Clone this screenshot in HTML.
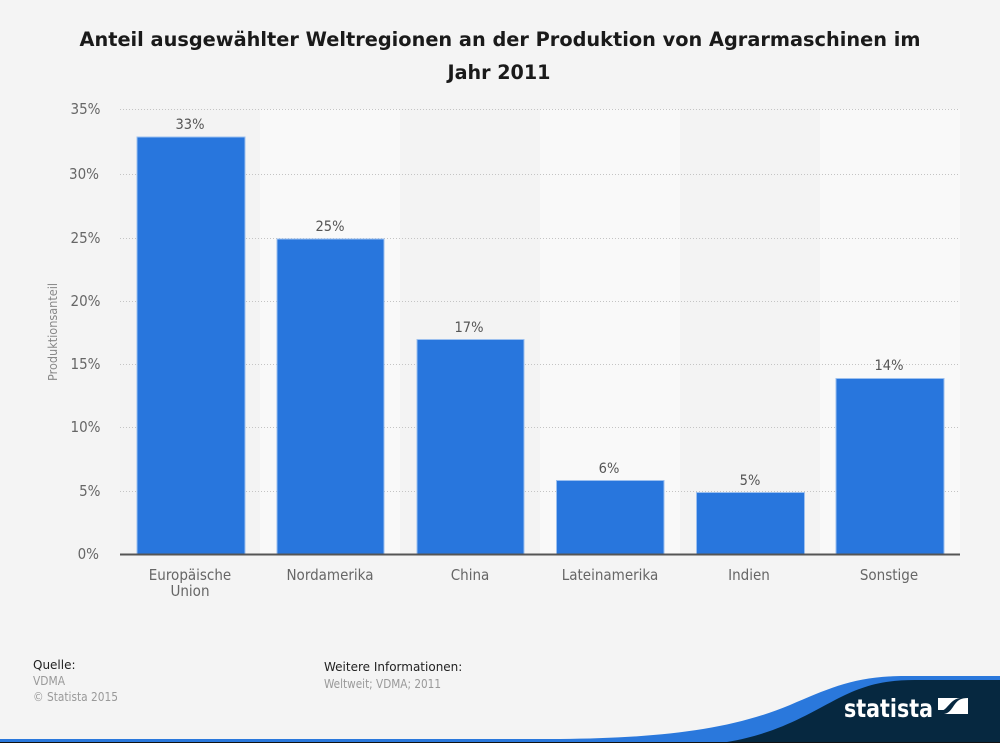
<!DOCTYPE html>
<html>
<head>
<meta charset="utf-8">
<style>
  html,body{margin:0;padding:0;background:#f4f4f4;}
  svg{display:block;}
  .tick{font-family:"DejaVu Sans Condensed","DejaVu Sans","Liberation Sans",sans-serif;font-size:15px;fill:#666;}
  .val{font-family:"DejaVu Sans Condensed","DejaVu Sans","Liberation Sans",sans-serif;font-size:14.5px;fill:#555;}
  .cat{font-family:"DejaVu Sans Condensed","DejaVu Sans","Liberation Sans",sans-serif;font-size:15px;fill:#666;}
  .foot{font-family:"DejaVu Sans","Liberation Sans",sans-serif;font-size:12px;}
  .footc{font-family:"DejaVu Sans Condensed","DejaVu Sans","Liberation Sans",sans-serif;font-size:12px;}
</style>
</head>
<body>
<svg width="1000" height="743" viewBox="0 0 1000 743" xmlns="http://www.w3.org/2000/svg">
  <rect x="0" y="0" width="1000" height="743" fill="#f4f4f4"/>

  <!-- Title -->
  <text x="500" y="46" text-anchor="middle" textLength="841" lengthAdjust="spacingAndGlyphs" font-family="'DejaVu Sans','Liberation Sans',sans-serif" font-weight="bold" font-size="19.5" fill="#1a1a1a">Anteil ausgewählter Weltregionen an der Produktion von Agrarmaschinen im</text>
  <text x="499" y="79" text-anchor="middle" textLength="103" lengthAdjust="spacingAndGlyphs" font-family="'DejaVu Sans','Liberation Sans',sans-serif" font-weight="bold" font-size="19.5" fill="#1a1a1a">Jahr 2011</text>

  <!-- Bands -->
  <rect x="120" y="109" width="140" height="445" fill="#f3f3f3"/>
  <rect x="260" y="109" width="140" height="445" fill="#f9f9f9"/>
  <rect x="400" y="109" width="140" height="445" fill="#f3f3f3"/>
  <rect x="540" y="109" width="140" height="445" fill="#f9f9f9"/>
  <rect x="680" y="109" width="140" height="445" fill="#f3f3f3"/>
  <rect x="820" y="109" width="140" height="445" fill="#f9f9f9"/>

  <!-- Gridlines -->
  <g stroke="#c4c4c4" stroke-width="1" stroke-dasharray="1,2">
    <line x1="120" y1="109.5" x2="960" y2="109.5"/>
    <line x1="120" y1="174.5" x2="960" y2="174.5"/>
    <line x1="120" y1="238.5" x2="960" y2="238.5"/>
    <line x1="120" y1="301.5" x2="960" y2="301.5"/>
    <line x1="120" y1="364.5" x2="960" y2="364.5"/>
    <line x1="120" y1="427.5" x2="960" y2="427.5"/>
    <line x1="120" y1="491.5" x2="960" y2="491.5"/>
  </g>

  <!-- Y tick labels -->
  <g class="tick" text-anchor="end">
    <text x="100.5" y="114">35%</text>
    <text x="99" y="179">30%</text>
    <text x="100.5" y="243">25%</text>
    <text x="100.5" y="306">20%</text>
    <text x="100.5" y="369">15%</text>
    <text x="100.5" y="432">10%</text>
    <text x="100.5" y="496">5%</text>
    <text x="99" y="559">0%</text>
  </g>

  <!-- Y axis title -->
  <text transform="translate(57,332) rotate(-90)" text-anchor="middle" textLength="98" lengthAdjust="spacingAndGlyphs" font-family="'DejaVu Sans Condensed','DejaVu Sans','Liberation Sans',sans-serif" font-size="12" fill="#888">Produktionsanteil</text>

  <!-- Bars -->
  <g fill="#2876dd" stroke="#9cc0ef" stroke-width="1">
    <rect x="137" y="137" width="108" height="417"/>
    <rect x="277" y="239" width="107" height="315"/>
    <rect x="417" y="339.5" width="107" height="214.5"/>
    <rect x="556.5" y="480.5" width="107.5" height="73.5"/>
    <rect x="696.5" y="492.5" width="108" height="61.5"/>
    <rect x="836" y="378.5" width="108" height="175.5"/>
  </g>

  <!-- Value labels -->
  <g class="val" text-anchor="middle">
    <text x="190" y="129">33%</text>
    <text x="330" y="231">25%</text>
    <text x="469" y="332">17%</text>
    <text x="609" y="473">6%</text>
    <text x="750" y="485">5%</text>
    <text x="889" y="370">14%</text>
  </g>

  <!-- X axis line -->
  <line x1="120" y1="554.5" x2="960" y2="554.5" stroke="#555" stroke-width="2"/>

  <!-- Category labels -->
  <g class="cat" text-anchor="middle">
    <text x="190" y="580">Europäische</text>
    <text x="190" y="596">Union</text>
    <text x="330" y="580">Nordamerika</text>
    <text x="470" y="580">China</text>
    <text x="610" y="580">Lateinamerika</text>
    <text x="749" y="580">Indien</text>
    <text x="889" y="580">Sonstige</text>
  </g>

  <!-- Footer -->
  <text class="foot" x="33" y="669" fill="#222">Quelle:</text>
  <text class="footc" x="33" y="685" fill="#999" textLength="32" lengthAdjust="spacingAndGlyphs">VDMA</text>
  <text class="footc" x="33" y="701" fill="#999" textLength="85" lengthAdjust="spacingAndGlyphs">© Statista 2015</text>
  <text class="foot" x="324" y="671" fill="#222">Weitere Informationen:</text>
  <text class="footc" x="324" y="688" fill="#999" textLength="117" lengthAdjust="spacingAndGlyphs">Weltweit; VDMA; 2011</text>

  <!-- Bottom wave -->
  <path d="M0,739 L560,739 C660,738 730,730 790,705 C830,688 855,676 905,676 L1000,676 L1000,743 L0,743 Z" fill="#2a78dc"/>
  <path d="M727,742 C775,734 805,716 835,700 C860,687 880,680 915,680 L1000,680 L1000,743 L727,743 Z" fill="#062840"/>
  <rect x="0" y="742" width="1000" height="1" fill="#111"/>

  <!-- statista logo -->
  <text x="844" y="717" textLength="89" lengthAdjust="spacingAndGlyphs" font-family="'DejaVu Sans Condensed','DejaVu Sans','Liberation Sans',sans-serif" font-weight="bold" font-size="25" fill="#ffffff">statista</text>
  <path d="M938,698 L960,698 C953,699 950,704 947,707 C945,709 944,710 943,710 L938,710 Z" fill="#ffffff"/>
  <path d="M968,698 L968,714 L944,714 C950,713 952,708 955,704 C958,700 961,698 968,698 Z" fill="#ffffff"/>
</svg>
</body>
</html>
